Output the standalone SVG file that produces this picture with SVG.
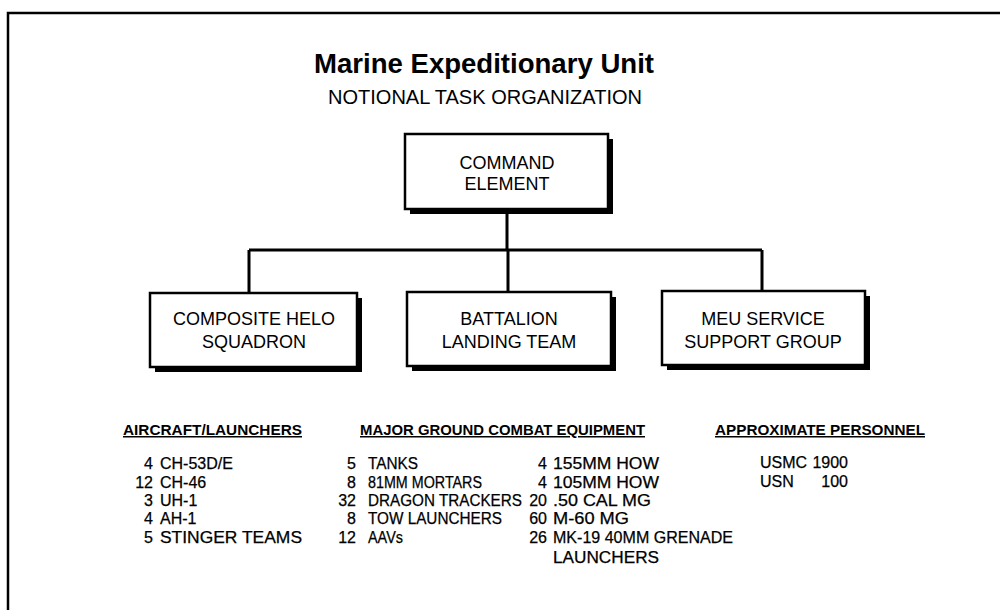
<svg xmlns="http://www.w3.org/2000/svg" width="1000" height="610" viewBox="0 0 1000 610">
<style>
text{font-family:"Liberation Sans",Arial,Helvetica,sans-serif;fill:#000}
.title{font-size:28px;font-weight:bold}
.sub{font-size:19.5px}
.box{fill:#fff;stroke:#000;stroke-width:2.5}
.shadow{fill:#000}
.bt{font-size:18px;text-anchor:middle}
.hd{font-size:15px;font-weight:bold;text-decoration:underline}
.it{font-size:16px;stroke:#000;stroke-width:0.25}
.num{font-size:16px;text-anchor:end;stroke:#000;stroke-width:0.25}
.conn{fill:none;stroke:#000;stroke-width:3}
</style>
<rect x="0" y="0" width="1000" height="610" fill="#fff"/>
<path d="M8,610 V13 H1000" fill="none" stroke="#000" stroke-width="2.5"/>
<g id="title">
<text class="title" x="484" y="73" text-anchor="middle" textLength="340" lengthAdjust="spacingAndGlyphs">Marine Expeditionary Unit</text>
<text class="sub" x="485" y="104" text-anchor="middle" textLength="314" lengthAdjust="spacingAndGlyphs">NOTIONAL TASK ORGANIZATION</text>
</g>
<g id="connectors">
<path class="conn" d="M507,209 V250 M249,250 H762 M249,250 V293 M508,250 V292 M762,250 V291"/>
</g>
<g id="command-element">
<rect class="shadow" x="410" y="139" width="203" height="75"/>
<rect class="box" x="405" y="134" width="203" height="75"/>
<text class="bt" x="507" y="169">COMMAND</text>
<text class="bt" x="507" y="190">ELEMENT</text>
</g>
<g id="composite-helo-squadron">
<rect class="shadow" x="155" y="298" width="207" height="74"/>
<rect class="box" x="150" y="293" width="207" height="74"/>
<text class="bt" x="254" y="325">COMPOSITE HELO</text>
<text class="bt" x="254" y="348">SQUADRON</text>
</g>
<g id="battalion-landing-team">
<rect class="shadow" x="412" y="297" width="204" height="74"/>
<rect class="box" x="407" y="292" width="204" height="74"/>
<text class="bt" x="509" y="325">BATTALION</text>
<text class="bt" x="509" y="348">LANDING TEAM</text>
</g>
<g id="meu-service-support-group">
<rect class="shadow" x="667" y="296" width="203" height="74"/>
<rect class="box" x="662" y="291" width="203" height="74"/>
<text class="bt" x="763" y="325">MEU SERVICE</text>
<text class="bt" x="763" y="348">SUPPORT GROUP</text>
</g>
<g id="aircraft-launchers">
<text class="hd" x="123" y="435" textLength="179" lengthAdjust="spacingAndGlyphs">AIRCRAFT/LAUNCHERS</text>
<text class="num" x="153" y="469">4</text><text class="it" x="160" y="469">CH-53D/E</text>
<text class="num" x="153" y="488">12</text><text class="it" x="160" y="488">CH-46</text>
<text class="num" x="153" y="506">3</text><text class="it" x="160" y="506">UH-1</text>
<text class="num" x="153" y="524">4</text><text class="it" x="160" y="524">AH-1</text>
<text class="num" x="153" y="543">5</text><text class="it" x="160" y="543" textLength="142" lengthAdjust="spacingAndGlyphs">STINGER TEAMS</text>
</g>
<g id="major-ground-combat-equipment">
<text class="hd" x="360" y="435" textLength="285" lengthAdjust="spacingAndGlyphs">MAJOR GROUND COMBAT EQUIPMENT</text>
<text class="num" x="356" y="469">5</text><text class="it" x="368" y="469" textLength="50" lengthAdjust="spacingAndGlyphs">TANKS</text>
<text class="num" x="356" y="488">8</text><text class="it" x="368" y="488" textLength="114" lengthAdjust="spacingAndGlyphs">81MM MORTARS</text>
<text class="num" x="356" y="506">32</text><text class="it" x="368" y="506" textLength="154" lengthAdjust="spacingAndGlyphs">DRAGON TRACKERS</text>
<text class="num" x="356" y="524">8</text><text class="it" x="368" y="524" textLength="134" lengthAdjust="spacingAndGlyphs">TOW LAUNCHERS</text>
<text class="num" x="356" y="543">12</text><text class="it" x="368" y="543" textLength="35" lengthAdjust="spacingAndGlyphs">AAVs</text>
<text class="num" x="547" y="469">4</text><text class="it" x="553" y="469" textLength="106" lengthAdjust="spacingAndGlyphs">155MM HOW</text>
<text class="num" x="547" y="488">4</text><text class="it" x="553" y="488" textLength="106" lengthAdjust="spacingAndGlyphs">105MM HOW</text>
<text class="num" x="547" y="506">20</text><text class="it" x="553" y="506" textLength="98" lengthAdjust="spacingAndGlyphs">.50 CAL MG</text>
<text class="num" x="547" y="524">60</text><text class="it" x="553" y="524" textLength="76" lengthAdjust="spacingAndGlyphs">M-60 MG</text>
<text class="num" x="547" y="543">26</text><text class="it" x="553" y="543" textLength="180" lengthAdjust="spacingAndGlyphs">MK-19 40MM GRENADE</text>
<text class="it" x="553" y="563" textLength="106" lengthAdjust="spacingAndGlyphs">LAUNCHERS</text>
</g>
<g id="approximate-personnel">
<text class="hd" x="715" y="435" textLength="210" lengthAdjust="spacingAndGlyphs">APPROXIMATE PERSONNEL</text>
<text class="it" x="760" y="468">USMC</text><text class="num" x="848" y="468">1900</text>
<text class="it" x="760" y="487">USN</text><text class="num" x="848" y="487">100</text>
</g>
</svg>
